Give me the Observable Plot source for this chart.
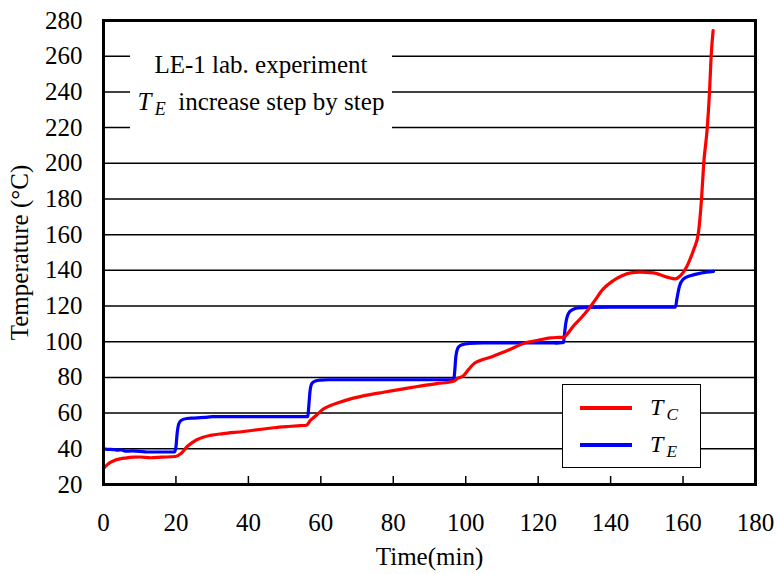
<!DOCTYPE html>
<html>
<head>
<meta charset="utf-8">
<script src="https://cdn.jsdelivr.net/npm/d3@7"></script>
<script src="https://cdn.jsdelivr.net/npm/@observablehq/plot@0.6"></script>
<style>
  html, body { margin: 0; padding: 0; background: white; }
  #wrap { position: relative; width: 778px; height: 574px; font-family: "Liberation Serif", "Times New Roman", serif; }
  #note { position: absolute; left: 130px; top: 46px; width: 262px; height: 85px; background: white;
          text-align: center; font-size: 25px; line-height: 37px; color: black; }
  #legend { position: absolute; left: 562px; top: 384px; width: 137px; height: 82px; background: white;
            border: 1.5px solid black; }
  .it { font-style: italic; }
  .sub { font-style: italic; font-size: 0.72em; position: relative; top: 0.3em; margin-left: 0.18em; }
  .leg-row { position: absolute; left: 0; height: 30px; width: 137px; }
  .leg-line { position: absolute; left: 17px; width: 52px; height: 3.5px; }
  .leg-text { position: absolute; left: 87px; font-size: 24px; line-height: 24px; color: black; }
</style>
</head>
<body>
<div id="wrap">
  <div id="chart"></div>
  <div id="note">
    <div>LE-1 lab. experiment</div>
    <div><span class="it">T</span><span class="sub">E</span>&nbsp; increase step by step</div>
  </div>
  <div id="legend"></div>
</div>
<script>
// T_C (red) series
const timeC = [0,1,2,3,4.7,6,8.3,10,13,16,19.9,21.3,23.1,24.5,25.9,27.5,29.5,33,38.7,43,47,51,54.4,56,57.1,58.3,59.4,60.5,62.7,65,68.2,72,77.3,82,86.7,92,96.6,97.7,99.4,100.8,102.2,104,106.8,111.4,117,120,123.4,125.5,127,128.3,129.8,131.7,133.6,136.3,137.2,140.8,143,145.5,148,151.9,155.6,157.9,159,160.1,161,162,163,164.2,165.1,165.7,166.7,167.3,167.8,168.3];
const tempC = [29,31,32.5,33.5,34.4,34.8,35.3,35.4,35,35.3,35.7,37.2,41.3,43.5,45.2,46.5,47.5,48.5,49.7,50.8,51.8,52.5,53,53.2,55.9,58,60,62,64.3,66,68,69.8,71.7,73.3,74.9,76.5,77.9,79.4,81,84.5,87.6,89.5,91.3,95,99.7,100.8,102.2,102.4,102.5,105,109,113,117.5,125,127.7,134.3,136.8,138.6,139,138.6,136.2,135.2,136.5,139,142,146.6,152,160.5,180,199.7,220.2,239.8,261.5,274.4];
// T_E (blue) series
const timeE = [0,1,2,3,4,5,6,8,10,12,15,19.6,20,20.3,20.8,21.5,23,25,28,30,40,50,56.4,56.6,57,57.5,58.5,60,62,70,80,90,96.7,96.9,97.3,98,99,101,105,110,115,120,124,125,126,127,127.2,127.6,128.4,129.5,131,135,140,150,157.6,157.9,158.3,159,160,162,165,168.4];
const tempE = [40,39.7,39.7,39.5,39.3,39.4,38.7,38.8,38.6,38.2,38.2,38.2,41,48,54,56,57,57.2,57.6,58,58,58,58,62,72,76.5,78,78.5,78.7,78.7,78.7,78.7,78.7,82,92,97,98.3,99,99.3,99.4,99.4,99.4,99.4,99.2,99.4,99.6,103,110,116,118,119,119.3,119.4,119.4,119.4,119.4,124,131,135,137,138.5,139.4,139.8];

const xTicks = [0,20,40,60,80,100,120,140,160,180];
const yTicks = [20,40,60,80,100,120,140,160,180,200,220,240,260,280];
const gridTicks = yTicks.filter(v => v > 20 && v < 280);
const innerXTicks = xTicks.filter(v => v > 0 && v < 180);

const seriesNames = ["T_C", "T_E"];
const seriesColors = ["#ff0000", "#0000ff"];

const rowsC = timeC.map((t, i) => ({t, v: tempC[i]}));
const rowsE = timeE.map((t, i) => ({t, v: tempE[i]}));

const chart = Plot.plot({
  width: 778, height: 574,
  marginLeft: 103, marginRight: 23, marginTop: 20, marginBottom: 90,
  x: {domain: [0, 180]},
  y: {domain: [20, 280]},
  style: {fontFamily: "'Liberation Serif', 'Times New Roman', serif", fontSize: "25px", color: "black", background: "white"},
  marks: [
    Plot.ruleY(gridTicks, {stroke: "black", strokeWidth: 1.5}),
    Plot.ruleX(innerXTicks, {y1: 20, y2: 24.5, stroke: "black", strokeWidth: 1.5}),
    Plot.line(rowsE, {x: "t", y: "v", stroke: seriesColors[1], strokeWidth: 3.2, curve: "monotone-x"}),
    Plot.line(rowsC, {x: "t", y: "v", stroke: seriesColors[0], strokeWidth: 3.2, curve: "monotone-x"}),
    Plot.frame({stroke: "black", strokeWidth: 3}),
    Plot.axisX(xTicks, {tickSize: 0, tickPadding: 29, fontSize: 25, label: "Time(min)", labelAnchor: "center", labelOffset: 80, labelArrow: "none"}),
    Plot.axisY(yTicks, {tickSize: 0, tickPadding: 21, fontSize: 25, label: "Temperature (°C)", labelAnchor: "center", labelOffset: 93, labelArrow: "none"})
  ]
});
document.getElementById("chart").appendChild(chart);

// legend
const legend = document.getElementById("legend");
seriesNames.forEach((name, i) => {
  const row = document.createElement("div");
  row.className = "leg-row";
  row.style.top = (i === 0 ? 8 : 45) + "px";
  const line = document.createElement("div");
  line.className = "leg-line";
  line.style.background = seriesColors[i];
  line.style.top = "13px";
  const txt = document.createElement("div");
  txt.className = "leg-text";
  txt.style.top = "2px";
  const [main, sub] = name.split("_");
  txt.innerHTML = `<span class="it">${main}</span><span class="sub">${sub}</span>`;
  row.appendChild(line);
  row.appendChild(txt);
  legend.appendChild(row);
});
</script>
</body>
</html>
